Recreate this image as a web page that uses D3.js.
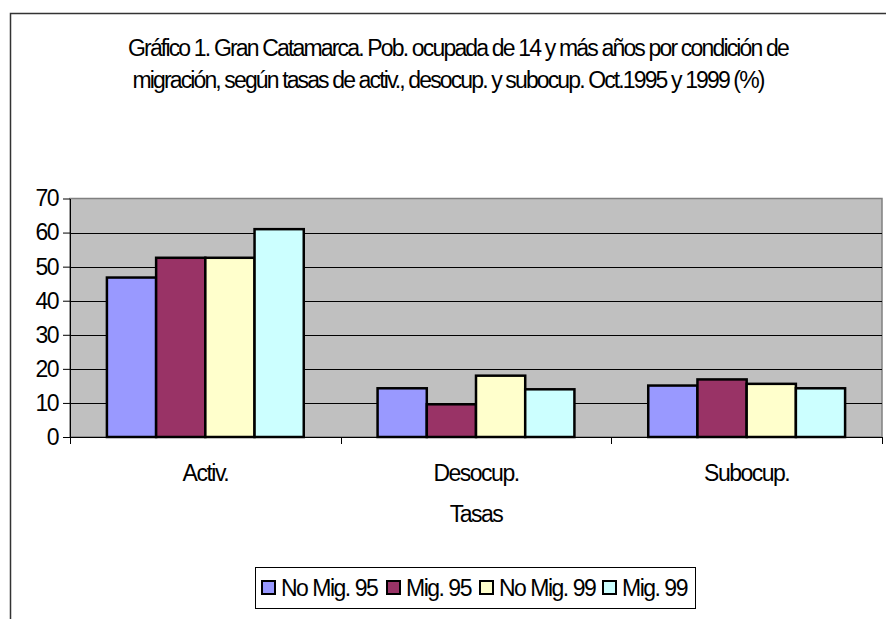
<!DOCTYPE html>
<html>
<head>
<meta charset="utf-8">
<script src="https://cdn.jsdelivr.net/npm/d3@7"></script>
<style>
  body { margin: 0; background: #fff; }
  text { font-family: "Liberation Sans", Arial, sans-serif; fill: #000; }
</style>
</head>
<body>
<script>
const categories = ["Activ.", "Desocup.", "Subocup."];
const series = ["No Mig. 95", "Mig. 95", "No Mig. 99", "Mig. 99"];
const noMig95 = [46.8, 14.3, 15.1];
const mig95 = [52.6, 9.6, 16.9];
const noMig99 = [52.6, 18.0, 15.6];
const mig99 = [61.0, 14.0, 14.3];
const yTicks = [0, 10, 20, 30, 40, 50, 60, 70];
const titleLines = [
      "Gráfico 1. Gran Catamarca. Pob. ocupada de 14 y más años por condición de",
      "migración, según tasas de activ., desocup. y subocup. Oct.1995 y 1999 (%)"
];
const colors = ["#9999ff", "#993366", "#ffffcc", "#ccffff"];

const values = [noMig95, mig95, noMig99, mig99];
const dataset = [];
categories.forEach((c, i) => {
      series.forEach((s, j) => dataset.push({cat: c, ser: s, val: values[j][i]}));
});

const w = 886;
const h = 619;
const fs = "23px";
const ls = "-1.5px";

const svg = d3.select("body")
      .append("svg")
      .attr("width", w)
      .attr("height", h);

// outer chart frame (runs off the right and bottom edge)
svg.append("rect")
      .attr("x", 10.5)
      .attr("y", 13.5)
      .attr("width", 900)
      .attr("height", 700)
      .attr("fill", "none")
      .attr("stroke", "#333")
      .attr("stroke-width", 1.5);

// title, squeezed to the reference widths with letter-spacing
const titleX = [458, 448];
const titleY = [56, 88];
const titleW = [660, 631];
svg.selectAll("text.title")
      .data(titleLines)
      .enter()
      .append("text")
      .attr("class", "title")
      .attr("x", (d, i) => titleX[i])
      .attr("y", (d, i) => titleY[i])
      .attr("text-anchor", "middle")
      .style("font-size", fs)
      .text(d => d)
      .each(function(d, i) {
            const natural = this.getComputedTextLength();
            const sp = (titleW[i] - natural) / d.length;
            d3.select(this).style("letter-spacing", sp + "px");
      });

const plotLeft = 70, plotRight = 882, plotTop = 198.5, plotBottom = 437;

const xScale = d3.scaleBand()
      .domain(categories)
      .range([plotLeft, plotRight])
      .padding(0);

const xInner = d3.scaleBand()
      .domain(series)
      .range([0, xScale.bandwidth()])
      .paddingInner(0)
      .paddingOuter(0.75);

const yScale = d3.scaleLinear()
      .domain([0, 70])
      .range([plotBottom, plotTop]);

const color = d3.scaleOrdinal().domain(series).range(colors);

// plot area
svg.append("rect")
      .attr("x", plotLeft)
      .attr("y", plotTop)
      .attr("width", plotRight - plotLeft)
      .attr("height", plotBottom - plotTop)
      .attr("fill", "#c0c0c0")
      .attr("stroke", "#808080")
      .attr("stroke-width", 1.5);

// gridlines
svg.append("g")
      .selectAll("line")
      .data(yTicks.filter(d => d > 0 && d < 70))
      .enter()
      .append("line")
      .attr("x1", plotLeft)
      .attr("x2", plotRight)
      .attr("y1", d => Math.round(yScale(d)) + 0.5)
      .attr("y2", d => Math.round(yScale(d)) + 0.5)
      .attr("stroke", "#000")
      .attr("stroke-width", 1);

svg.selectAll("rect.bar")
      .data(dataset)
      .enter()
      .append("rect")
      .attr("class", "bar")
      .attr("x", d => xScale(d.cat) + xInner(d.ser))
      .attr("y", d => yScale(d.val))
      .attr("width", xInner.bandwidth())
      .attr("height", d => plotBottom - yScale(d.val))
      .attr("fill", d => color(d.ser))
      .attr("stroke", "#000")
      .attr("stroke-width", 2.5);

const yAxis = d3.axisLeft(yScale)
      .tickValues(yTicks)
      .tickSizeInner(7)
      .tickSizeOuter(0)
      .tickPadding(5);

const yg = svg.append("g")
      .attr("transform", "translate(" + plotLeft + ",0)")
      .call(yAxis);
yg.selectAll("text")
      .style("font-size", fs)
      .style("letter-spacing", ls)
      .style("font-family", "Liberation Sans, Arial, sans-serif");

const xAxis = d3.axisBottom(xScale)
      .tickSize(0);

const xg = svg.append("g")
      .attr("transform", "translate(0," + plotBottom + ")")
      .call(xAxis);
xg.selectAll("text")
      .attr("y", 44)
      .attr("dy", 0)
      .style("font-size", fs)
      .style("letter-spacing", ls)
      .style("font-family", "Liberation Sans, Arial, sans-serif");

// category boundary ticks
xg.selectAll("line.sep")
      .data([plotLeft, ...categories.map(c => xScale(c) + xScale.bandwidth())])
      .enter()
      .append("line")
      .attr("class", "sep")
      .attr("x1", d => Math.round(d) + 0.5)
      .attr("x2", d => Math.round(d) + 0.5)
      .attr("y1", 0)
      .attr("y2", 7)
      .attr("stroke", "#000");

yg.select(".domain").attr("stroke", "#000");
xg.select(".domain").attr("stroke", "#000");

svg.append("text")
      .attr("x", 476)
      .attr("y", 522)
      .attr("text-anchor", "middle")
      .style("font-size", fs)
      .style("letter-spacing", ls)
      .text("Tasas");

// legend
const legend = svg.append("g");
legend.append("rect")
      .attr("x", 255.5)
      .attr("y", 567.5)
      .attr("width", 440)
      .attr("height", 41)
      .attr("fill", "#fff")
      .attr("stroke", "#000");

const legendX = [262, 387, 480, 603];
const item = legend.selectAll("g.item")
      .data(series)
      .enter()
      .append("g")
      .attr("class", "item")
      .attr("transform", (d, i) => "translate(" + legendX[i] + ",581)");

item.append("rect")
      .attr("width", 13)
      .attr("height", 13)
      .attr("fill", d => color(d))
      .attr("stroke", "#000")
      .attr("stroke-width", 2);

item.append("text")
      .attr("x", 19)
      .attr("y", 15)
      .style("font-size", fs)
      .style("letter-spacing", ls)
      .text(d => d);
</script>
</body>
</html>
